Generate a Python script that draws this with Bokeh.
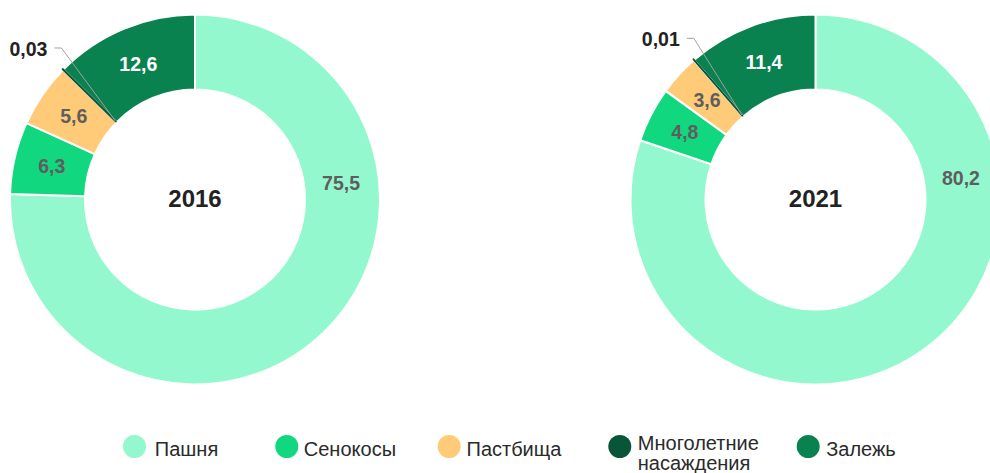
import math
import numpy as np
from bokeh.plotting import figure
from bokeh.models import Range1d, ColumnDataSource
from bokeh.core.properties import value
from bokeh.embed import file_html
from bokeh.resources import INLINE

# ---------------- data ----------------
categories = ["Пашня", "Сенокосы", "Пастбища", "Многолетние насаждения", "Залежь"]
legend_labels = ["Пашня", "Сенокосы", "Пастбища", "Многолетние\nнасаждения", "Залежь"]
years = ["2016", "2021"]
values_2016 = [75.5, 6.3, 5.6, 0.03, 12.6]
values_2021 = [80.2, 4.8, 3.6, 0.01, 11.4]
colors = ["#93F8CE", "#11D77F", "#FFCB78", "#08553A", "#0A8250"]
label_colors = ["#5E5E5E", "#5E5E5E", "#5E5E5E", "#222222", "#FFFFFF"]

# ---------------- layout / style ----------------
PAGE_W, PAGE_H = 990, 473
FIG_W, FIG_H = PAGE_W, PAGE_H
FONT = "Liberation Sans"
CENTERS_X = [194.5, 815.0]      # page px
CENTER_Y = 199.0                # page px
R_OUT, R_IN = 185, 110
R_LABEL = 147
BIG_LABEL_ANGLE = [83.6, 81.7]  # clockwise from 12 o'clock, for the largest slice
R_ELBOW = 202
ELBOW_SHIFT = 4.0
LEGEND_CIRCLE_X = [134, 286.3, 448.7, 619.3, 807.7]
LEGEND_TEXT_X = [154.3, 303.3, 466, 637.3, 825.7]
LEGEND_CIRCLE_Y = 446
LEGEND_MID_Y = 448.3
LEGEND_MULTI_MID_Y = 442.0
LEGEND_LINE_GAP = 20


def py(page_y):
    return PAGE_H - page_y


def fmt(v):
    return f"{v:g}".replace(".", ",")


p = figure(width=FIG_W, height=FIG_H,
           x_range=Range1d(0, PAGE_W), y_range=Range1d(0, PAGE_H),
           output_backend="svg", toolbar_location=None, min_border=0,
           x_axis_location=None, y_axis_location=None)
p.outline_line_color = None
p.grid.visible = False
p.background_fill_color = "white"
p.border_fill_color = "white"

for i, vals in enumerate([values_2016, values_2021]):
    cx, cy = CENTERS_X[i], py(CENTER_Y)
    vals = np.array(vals, dtype=float)
    total = vals.sum()
    cum = np.concatenate([[0], np.cumsum(vals)])
    th0 = 360 * cum[:-1] / total
    th1 = 360 * cum[1:] / total
    src = ColumnDataSource(dict(
        start=np.pi / 2 - np.radians(th0),
        end=np.pi / 2 - np.radians(th1),
        color=colors,
    ))
    p.annular_wedge(x=cx, y=cy, inner_radius=R_IN, outer_radius=R_OUT,
                    start_angle="start", end_angle="end", direction="clock",
                    fill_color="color", line_color="white", line_width=2,
                    source=src)
    # tiny slices drawn as a visible sliver
    tiny = [j for j in range(len(vals)) if vals[j] < 1]
    if tiny:
        tsrc = ColumnDataSource(dict(
            start=[np.pi / 2 - np.radians(th0[j]) for j in tiny],
            end=[np.pi / 2 - np.radians(th1[j]) for j in tiny],
            color=[colors[j] for j in tiny],
        ))
        p.annular_wedge(x=cx, y=cy, inner_radius=R_IN + 1, outer_radius=R_OUT + 1,
                        start_angle="start", end_angle="end", direction="clock",
                        fill_color="color", line_color="color", line_width=1.8,
                        source=tsrc)

    # inside labels
    big = int(np.argmax(vals))
    lx, ly, lt, lc = [], [], [], []
    for j in range(len(vals)):
        if vals[j] < 1:
            continue
        th = BIG_LABEL_ANGLE[i] if j == big else (th0[j] + th1[j]) / 2
        t = math.radians(th)
        lx.append(cx + R_LABEL * math.sin(t))
        ly.append(cy + R_LABEL * math.cos(t))
        lt.append(fmt(vals[j]))
        lc.append(label_colors[j])
    p.text(x=lx, y=ly, text=lt, text_color=lc, text_font=value(FONT),
           text_font_size="19.5px", text_font_style="bold",
           text_align="center", text_baseline="middle")

    # outside labels with leader lines
    for j in tiny:
        mid = math.radians((th0[j] + th1[j]) / 2)
        el = math.radians((th0[j] + th1[j]) / 2 + ELBOW_SHIFT)
        x_in, y_in = cx + (R_IN + 2) * math.sin(mid), cy + (R_IN + 2) * math.cos(mid)
        ex, ey = cx + R_ELBOW * math.sin(el), cy + R_ELBOW * math.cos(el)
        p.line(x=[x_in, ex, ex - 7], y=[y_in, ey, ey], line_color="#A0A0A0", line_width=1)
        p.text(x=[ex - 14], y=[ey - 1.0], text=[fmt(vals[j])], text_color=label_colors[j],
               text_font=value(FONT), text_font_size="19.5px", text_font_style="bold",
               text_align="right", text_baseline="middle")

    # centre year
    p.text(x=[cx], y=[py(198)], text=[years[i]], text_color="#222222",
           text_font=value(FONT), text_font_size="24px", text_font_style="bold",
           text_align="center", text_baseline="middle")

# legend
p.scatter(x=LEGEND_CIRCLE_X, y=[py(LEGEND_CIRCLE_Y)] * len(colors), size=23,
          fill_color=colors, line_color=None)
tx, ty, tt = [], [], []
for k, lab in enumerate(legend_labels):
    lines = lab.split("\n")
    base = LEGEND_MID_Y if len(lines) == 1 else LEGEND_MULTI_MID_Y
    for m, line in enumerate(lines):
        tx.append(LEGEND_TEXT_X[k])
        ty.append(py(base + m * LEGEND_LINE_GAP))
        tt.append(line)
p.text(x=tx, y=ty, text=tt, text_color="#2A2A2A", text_font=value(FONT),
       text_font_size="20px", text_align="left", text_baseline="middle")

open("out.html", "w").write(file_html(p, INLINE))
